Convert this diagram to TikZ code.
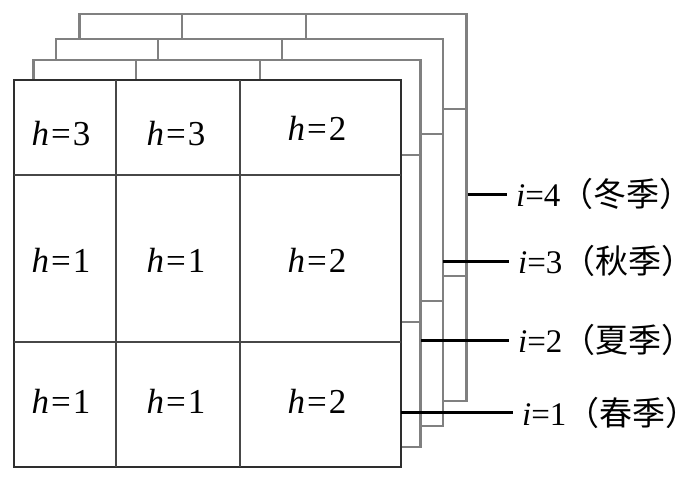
\documentclass[tikz,border=0pt]{standalone}
\usepackage{fontspec}
\setmainfont{Liberation Serif}
\newfontfamily\serifrm{Liberation Serif}
\newfontfamily\cjk{Noto Sans CJK SC}
\begin{document}
\begin{tikzpicture}[x=1pt,y=-1pt,
  backframe/.style={draw=black!50, line width=2.4pt, fill=white},
  backgrid/.style={draw=black!50, line width=2pt},
  frontframe/.style={draw=black!82, line width=2.8pt, fill=white},
  frontgrid/.style={draw=black!72, line width=1.6pt},
  leader/.style={draw=black, line width=3pt},
  celltext/.style={anchor=base, inner sep=0pt, font=\serifrm\fontsize{35}{35}\selectfont},
  labeltext/.style={anchor=base west, inner sep=0pt, font=\serifrm\fontsize{33}{33}\selectfont}]
\useasboundingbox (0,0) rectangle (700,482);
% back layers
\foreach \dx/\dy in {65.5/-66, 42/-41, 19.5/-20}{
  \begin{scope}[shift={(\dx,\dy)}]
    \draw[backframe] (14,80) rectangle (401,467);
    \draw[backgrid] (116,80) -- (116,467) (240,80) -- (240,467)
                    (14,175) -- (401,175) (14,342) -- (401,342);
  \end{scope}
}
% front layer
\draw[frontframe] (14,80) rectangle (401,467);
\draw[frontgrid] (116,80) -- (116,467) (240,80) -- (240,467)
                 (14,175) -- (401,175) (14,342) -- (401,342);
% cell texts
\node[celltext] (a11) at (61,145) {\textit{h}\kern2pt=\kern2pt3};
\node[celltext] (a12) at (176,145) {\textit{h}\kern2pt=\kern2pt3};
\node[celltext] (a13) at (317,140) {\textit{h}\kern2pt=\kern2pt2};
\node[celltext] (a21) at (61,272) {\textit{h}\kern2pt=\kern2pt1};
\node[celltext] (a22) at (176,272) {\textit{h}\kern2pt=\kern2pt1};
\node[celltext] (a23) at (317,272) {\textit{h}\kern2pt=\kern2pt2};
\node[celltext] (a31) at (61,413) {\textit{h}\kern2pt=\kern2pt1};
\node[celltext] (a32) at (176,413) {\textit{h}\kern2pt=\kern2pt1};
\node[celltext] (a33) at (317,413) {\textit{h}\kern2pt=\kern2pt2};
% leader anchors
\coordinate (c4) at (467.5,194);
\coordinate (c3) at (443,261);
\coordinate (c2) at (421,340);
\coordinate (c1) at (401,412);
% labels
\node[labeltext] (t4) at (516,206.5) {\textit{i}=4{\cjk（冬季）}};
\node[labeltext] (t3) at (518,273) {\textit{i}=3{\cjk（秋季）}};
\node[labeltext] (t2) at (518,352.5) {\textit{i}=2{\cjk（夏季）}};
\node[labeltext] (t1) at (522,425) {\textit{i}=1{\cjk（春季）}};
\foreach \n in {1,2,3,4}{
  \draw[leader, shorten >=9pt] (c\n) -- (c\n -| t\n.west);
}
\end{tikzpicture}
\end{document}
